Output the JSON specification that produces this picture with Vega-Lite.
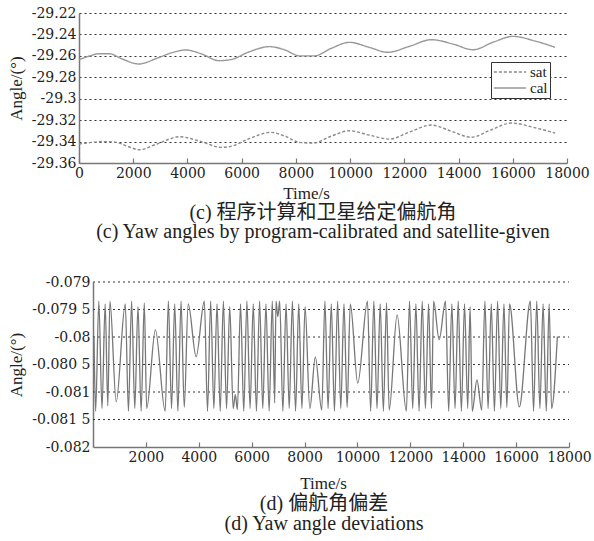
{
  "$schema": "https://vega.github.io/schema/vega-lite/v6.json",
  "padding": {"left": 7, "top": 6, "right": 0, "bottom": 3},
  "background": "white",
  "config": {
    "view": {"stroke": null},
    "font": "Liberation Serif",
    "axis": {
      "labelFont": "DejaVu Serif", "labelFontSize": 14, "labelColor": "#222", "labelOverlap": false, "labelFlush": false,
      "titleFont": "Liberation Serif", "titleFontSize": 17, "titleFontWeight": "normal", "titleColor": "#222",
      "domainColor": "#777", "domainWidth": 1.5, "tickColor": "#777", "tickWidth": 1.2,
      "gridColor": "#333", "gridDash": [2, 3], "gridWidth": 1
    },
    "title": {
      "orient": "bottom", "anchor": "middle", "frame": "group",
      "font": "Liberation Serif, Noto Sans CJK SC", "fontSize": 20, "fontWeight": "normal", "color": "#222",
      "subtitleFont": "Liberation Serif", "subtitleFontSize": 20, "subtitleColor": "#222"
    }
  },
  "spacing": 33,
  "vconcat": [
    {
      "width": 488,
      "height": 150,
      "title": {"text": "(c) 程序计算和卫星给定偏航角", "subtitle": "(c) Yaw angles by program-calibrated  and satellite-given", "offset": 2, "subtitlePadding": -1},
      "data": {
        "values": [
          {"t": 0, "v": -29.2636, "s": "cal"},
          {"t": 400, "v": -29.2600, "s": "cal"},
          {"t": 740, "v": -29.2580, "s": "cal"},
          {"t": 1110, "v": -29.2580, "s": "cal"},
          {"t": 1600, "v": -29.2630, "s": "cal"},
          {"t": 2200, "v": -29.2676, "s": "cal"},
          {"t": 2900, "v": -29.2620, "s": "cal"},
          {"t": 3500, "v": -29.2565, "s": "cal"},
          {"t": 3940, "v": -29.2545, "s": "cal"},
          {"t": 4500, "v": -29.2580, "s": "cal"},
          {"t": 5170, "v": -29.2645, "s": "cal"},
          {"t": 5600, "v": -29.2635, "s": "cal"},
          {"t": 6300, "v": -29.2560, "s": "cal"},
          {"t": 7020, "v": -29.2514, "s": "cal"},
          {"t": 7600, "v": -29.2545, "s": "cal"},
          {"t": 8130, "v": -29.2600, "s": "cal"},
          {"t": 8690, "v": -29.2600, "s": "cal"},
          {"t": 9300, "v": -29.2530, "s": "cal"},
          {"t": 9980, "v": -29.2474, "s": "cal"},
          {"t": 10700, "v": -29.2520, "s": "cal"},
          {"t": 11380, "v": -29.2567, "s": "cal"},
          {"t": 12200, "v": -29.2510, "s": "cal"},
          {"t": 13000, "v": -29.2449, "s": "cal"},
          {"t": 13800, "v": -29.2490, "s": "cal"},
          {"t": 14530, "v": -29.2543, "s": "cal"},
          {"t": 15300, "v": -29.2470, "s": "cal"},
          {"t": 16000, "v": -29.2418, "s": "cal"},
          {"t": 16800, "v": -29.2460, "s": "cal"},
          {"t": 17560, "v": -29.2520, "s": "cal"},
          {"t": 0, "v": -29.3423, "s": "sat"},
          {"t": 400, "v": -29.3410, "s": "sat"},
          {"t": 850, "v": -29.3400, "s": "sat"},
          {"t": 1330, "v": -29.3405, "s": "sat"},
          {"t": 1800, "v": -29.3445, "s": "sat"},
          {"t": 2220, "v": -29.3476, "s": "sat"},
          {"t": 2900, "v": -29.3420, "s": "sat"},
          {"t": 3700, "v": -29.3355, "s": "sat"},
          {"t": 4500, "v": -29.3400, "s": "sat"},
          {"t": 5240, "v": -29.3454, "s": "sat"},
          {"t": 5600, "v": -29.3445, "s": "sat"},
          {"t": 6300, "v": -29.3370, "s": "sat"},
          {"t": 7080, "v": -29.3314, "s": "sat"},
          {"t": 7600, "v": -29.3350, "s": "sat"},
          {"t": 8130, "v": -29.3407, "s": "sat"},
          {"t": 8620, "v": -29.3414, "s": "sat"},
          {"t": 9300, "v": -29.3350, "s": "sat"},
          {"t": 9980, "v": -29.3299, "s": "sat"},
          {"t": 10700, "v": -29.3340, "s": "sat"},
          {"t": 11460, "v": -29.3377, "s": "sat"},
          {"t": 12200, "v": -29.3310, "s": "sat"},
          {"t": 13000, "v": -29.3246, "s": "sat"},
          {"t": 13700, "v": -29.3300, "s": "sat"},
          {"t": 14470, "v": -29.3360, "s": "sat"},
          {"t": 15200, "v": -29.3290, "s": "sat"},
          {"t": 15950, "v": -29.3227, "s": "sat"},
          {"t": 16800, "v": -29.3270, "s": "sat"},
          {"t": 17560, "v": -29.3320, "s": "sat"}
        ]
      },
      "mark": {"type": "line", "interpolate": "monotone", "strokeWidth": 1.4},
      "encoding": {
        "x": {
          "field": "t", "type": "quantitative",
          "scale": {"domain": [0, 18000], "nice": false},
          "axis": {"title": "Time/s", "titleX": 227, "values": [0, 2000, 4000, 6000, 8000, 10000, 12000, 14000, 16000, 18000], "format": "d", "grid": false, "tickSize": -5, "labelPadding": 8, "titlePadding": 5, "labelFlush": false}
        },
        "y": {
          "field": "v", "type": "quantitative",
          "scale": {"domain": [-29.36, -29.22], "zero": false, "nice": false},
          "axis": {"title": "Angle/(°)", "values": [-29.36, -29.34, -29.32, -29.3, -29.28, -29.26, -29.24, -29.22], "grid": true, "ticks": false, "labelPadding": 3, "titlePadding": 6, "labelExpr": "'-' + format(-datum.value, '.2~f')"}
        },
        "color": {
          "field": "s", "type": "nominal",
          "scale": {"domain": ["sat", "cal"], "range": ["#8a8a8a", "#999999"]},
          "legend": {"title": null, "orient": "none", "legendX": 412, "legendY": 49, "strokeColor": "#333", "fillColor": "white", "padding": 2, "labelFont": "Liberation Serif", "labelFontSize": 15, "labelColor": "#222", "symbolType": "M-2.3,0H2.3", "symbolSize": 196, "symbolStrokeWidth": 1.4, "symbolOffset": 9, "rowPadding": 0, "labelOffset": 12}
        },
        "strokeDash": {
          "field": "s", "type": "nominal",
          "scale": {"domain": ["sat", "cal"], "range": [[3, 2], [1, 0]]},
          "legend": {"title": null, "orient": "none", "legendX": 412, "legendY": 49, "strokeColor": "#333", "fillColor": "white", "padding": 2, "labelFont": "Liberation Serif", "labelFontSize": 15, "labelColor": "#222", "symbolType": "M-2.3,0H2.3", "symbolSize": 196, "symbolStrokeWidth": 1.4, "symbolOffset": 9, "rowPadding": 0, "labelOffset": 12}
        }
      }
    },
    {
      "width": 490,
      "height": 165,
      "title": {"text": "(d) 偏航角偏差", "subtitle": "(d) Yaw angle deviations", "offset": 3, "subtitlePadding": 0},
      "layer": [
        {
          "data": {"values": [{"g": -0.079}, {"g": -0.0795}, {"g": -0.08}, {"g": -0.0805}, {"g": -0.081}, {"g": -0.0815}]},
          "mark": {"type": "rule", "color": "#333", "strokeDash": [2, 3], "strokeWidth": 1},
          "encoding": {
            "y": {
              "field": "g", "type": "quantitative",
              "scale": {"domain": [-0.082, -0.079], "zero": false, "nice": false},
              "axis": {"title": "Angle/(°)", "offset": -14, "values": [-0.082, -0.0815, -0.081, -0.0805, -0.08, -0.0795, -0.079], "grid": false, "ticks": false, "labelPadding": 3, "titlePadding": 6, "labelOverlap": false,
                "labelExpr": "abs(datum.value+0.0795)<1e-7 ? '-0.079 5' : abs(datum.value+0.0805)<1e-7 ? '-0.080 5' : abs(datum.value+0.0815)<1e-7 ? '-0.081 5' : '-' + format(-datum.value, '.3~f')"}
            },
            "x": {"datum": 0},
            "x2": {"datum": 18000}
          }
        },
        {
          "data": {
            "values": [
              {"t": 37, "v": -0.08000}, {"t": 100, "v": -0.08135}, {"t": 220, "v": -0.07935}, {"t": 340, "v": -0.08130},
              {"t": 460, "v": -0.07940}, {"t": 560, "v": -0.08125}, {"t": 640, "v": -0.07935}, {"t": 878, "v": -0.08118},
              {"t": 1220, "v": -0.07940}, {"t": 1340, "v": -0.08135}, {"t": 1460, "v": -0.07935}, {"t": 1580, "v": -0.08130},
              {"t": 1700, "v": -0.07945}, {"t": 1820, "v": -0.08135}, {"t": 1940, "v": -0.07938}, {"t": 2030, "v": -0.08130},
              {"t": 2359, "v": -0.07987}, {"t": 2730, "v": -0.08135}, {"t": 2850, "v": -0.07935}, {"t": 2970, "v": -0.08130},
              {"t": 3090, "v": -0.07940}, {"t": 3210, "v": -0.08135}, {"t": 3330, "v": -0.07935}, {"t": 3450, "v": -0.08128},
              {"t": 3600, "v": -0.07940}, {"t": 3900, "v": -0.08036}, {"t": 4210, "v": -0.07935}, {"t": 4330, "v": -0.08135},
              {"t": 4450, "v": -0.07935}, {"t": 4570, "v": -0.08130}, {"t": 4690, "v": -0.07940}, {"t": 4810, "v": -0.08135},
              {"t": 4930, "v": -0.07935}, {"t": 5050, "v": -0.08130}, {"t": 5170, "v": -0.07945}, {"t": 5300, "v": -0.08130},
              {"t": 5382, "v": -0.08105}, {"t": 5460, "v": -0.08132}, {"t": 5580, "v": -0.07940}, {"t": 5700, "v": -0.08135},
              {"t": 5820, "v": -0.07935}, {"t": 5940, "v": -0.08130}, {"t": 6060, "v": -0.07940}, {"t": 6180, "v": -0.08135},
              {"t": 6300, "v": -0.07935}, {"t": 6420, "v": -0.08130}, {"t": 6540, "v": -0.07940}, {"t": 6660, "v": -0.08135},
              {"t": 6780, "v": -0.07935}, {"t": 6870, "v": -0.08120}, {"t": 6920, "v": -0.07935}, {"t": 6989, "v": -0.07963},
              {"t": 7060, "v": -0.07935}, {"t": 7180, "v": -0.08135}, {"t": 7300, "v": -0.07940}, {"t": 7420, "v": -0.08130},
              {"t": 7540, "v": -0.07935}, {"t": 7660, "v": -0.08135}, {"t": 7780, "v": -0.07940}, {"t": 7900, "v": -0.08130},
              {"t": 8020, "v": -0.07945}, {"t": 8200, "v": -0.08130}, {"t": 8407, "v": -0.08036}, {"t": 8650, "v": -0.08133},
              {"t": 8770, "v": -0.07935}, {"t": 8890, "v": -0.08130}, {"t": 9010, "v": -0.07940}, {"t": 9130, "v": -0.08135},
              {"t": 9250, "v": -0.07935}, {"t": 9370, "v": -0.08130}, {"t": 9490, "v": -0.07940}, {"t": 9610, "v": -0.08128},
              {"t": 9730, "v": -0.07940}, {"t": 10012, "v": -0.08084}, {"t": 10380, "v": -0.07935}, {"t": 10500, "v": -0.08135},
              {"t": 10620, "v": -0.07935}, {"t": 10740, "v": -0.08130}, {"t": 10860, "v": -0.07940}, {"t": 10980, "v": -0.08135},
              {"t": 11100, "v": -0.07938}, {"t": 11200, "v": -0.08133}, {"t": 11500, "v": -0.07960}, {"t": 11850, "v": -0.08135},
              {"t": 11970, "v": -0.07935}, {"t": 12090, "v": -0.08130}, {"t": 12210, "v": -0.07940}, {"t": 12330, "v": -0.08135},
              {"t": 12450, "v": -0.07935}, {"t": 12570, "v": -0.08130}, {"t": 12690, "v": -0.07940}, {"t": 12800, "v": -0.08130},
              {"t": 12880, "v": -0.07935}, {"t": 13090, "v": -0.08005}, {"t": 13330, "v": -0.07935}, {"t": 13450, "v": -0.08135},
              {"t": 13570, "v": -0.07940}, {"t": 13690, "v": -0.08130}, {"t": 13810, "v": -0.07935}, {"t": 13930, "v": -0.08135},
              {"t": 14050, "v": -0.07940}, {"t": 14170, "v": -0.08130}, {"t": 14260, "v": -0.07945}, {"t": 14340, "v": -0.08135},
              {"t": 14519, "v": -0.08078}, {"t": 14700, "v": -0.08133}, {"t": 14820, "v": -0.07935}, {"t": 14940, "v": -0.08130},
              {"t": 15060, "v": -0.07940}, {"t": 15180, "v": -0.08135}, {"t": 15300, "v": -0.07935}, {"t": 15420, "v": -0.08130},
              {"t": 15540, "v": -0.07940}, {"t": 15650, "v": -0.08128}, {"t": 15750, "v": -0.07940}, {"t": 16122, "v": -0.08127},
              {"t": 16540, "v": -0.07935}, {"t": 16660, "v": -0.08135}, {"t": 16780, "v": -0.07935}, {"t": 16900, "v": -0.08130},
              {"t": 17020, "v": -0.07940}, {"t": 17140, "v": -0.08135}, {"t": 17250, "v": -0.07940}, {"t": 17340, "v": -0.08130},
              {"t": 17560, "v": -0.07999}
            ]
          },
          "mark": {"type": "line", "interpolate": "monotone", "strokeWidth": 1.3, "color": "#777777"},
          "encoding": {
            "x": {
              "field": "t", "type": "quantitative",
              "scale": {"domain": [0, 18000], "nice": false, "range": [14, 490]},
              "axis": {"title": "Time/s", "titleX": 244, "values": [2000, 4000, 6000, 8000, 10000, 12000, 14000, 16000, 18000], "format": "d", "grid": false, "tickSize": -5, "labelPadding": 8, "titlePadding": 11, "labelFlush": false}
            },
            "y": {
              "field": "v", "type": "quantitative",
              "scale": {"domain": [-0.082, -0.079], "zero": false, "nice": false},
              "axis": {"title": "Angle/(°)", "offset": -14, "values": [-0.082, -0.0815, -0.081, -0.0805, -0.08, -0.0795, -0.079], "grid": false, "ticks": false, "labelPadding": 3, "titlePadding": 6, "labelOverlap": false,
                "labelExpr": "abs(datum.value+0.0795)<1e-7 ? '-0.079 5' : abs(datum.value+0.0805)<1e-7 ? '-0.080 5' : abs(datum.value+0.0815)<1e-7 ? '-0.081 5' : '-' + format(-datum.value, '.3~f')"}
            }
          }
        }
      ]
    }
  ]
}
